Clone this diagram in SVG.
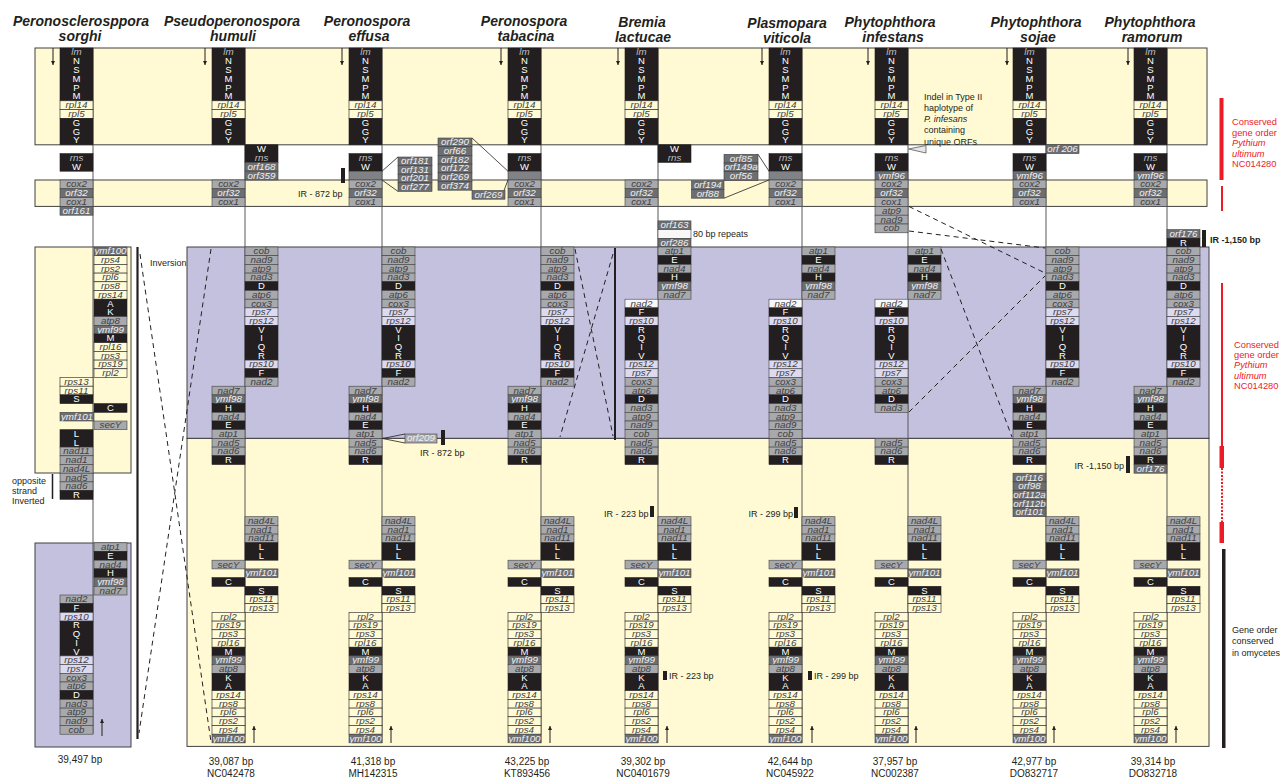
<svg xmlns="http://www.w3.org/2000/svg" width="1287" height="777" viewBox="0 0 1287 777">
<style>
text{font-family:"Liberation Sans",Arial,Helvetica,sans-serif}
.yb{fill:#fffad3;stroke:#414042;stroke-width:1}
.lv{fill:#c4c1df;stroke:#414042;stroke-width:1}
.k{fill:#231f20;stroke:#231f20;stroke-width:.6}
.g{fill:#a7a9ac;stroke:#414042;stroke-width:.6}
.d{fill:#6d6e71;stroke:#414042;stroke-width:.6}
.y{fill:#fffbd6;stroke:#231f20;stroke-width:.6}
.v{fill:#dcdaf0;stroke:#414042;stroke-width:.6}
.w{fill:#f7f7f7;stroke:#414042;stroke-width:.6}
.m{fill:#808285;stroke:#414042;stroke-width:.6}
.c,.i,.j,.l{font-size:9.8px;text-anchor:middle}
.c{fill:#fff;font-size:9.5px}
.i{font-style:italic;fill:#414042}
.j{font-style:italic;fill:#f1f1f2}
.l{font-style:italic;fill:#bcbec0}
.ax{stroke:#58595b;stroke-width:1}
.ar{stroke:#231f20;stroke-width:1;marker-end:url(#ah)}
.ds{stroke:#231f20;stroke-width:1;stroke-dasharray:5 4;fill:none}
.cn{stroke:#231f20;stroke-width:.8;fill:none}
.ti{font-size:14px;font-weight:bold;font-style:italic;text-anchor:middle;fill:#231f20}
.tx{font-size:9px;fill:#231f20}
.bp{font-size:10px;text-anchor:middle;fill:#231f20}
.rd{font-size:9.3px;fill:#ed1c24}
.bar{fill:#231f20}
</style>
<defs>
<marker id="ah" viewBox="0 0 6 6" refX="6" refY="3" markerWidth="4" markerHeight="4" orient="auto"><path d="M0,0 L6,3 L0,6z" fill="#231f20"/></marker>
</defs>
<g id="bands">
<rect class="yb" x="35" y="48" width="1172" height="96.8"/>
<rect class="yb" x="35" y="180" width="1172" height="26.4"/>
<rect class="lv" x="187" y="247" width="1022" height="191.4"/>
<rect class="yb" x="187" y="438.4" width="1022" height="308"/>
<rect class="yb" x="35" y="247" width="96" height="226"/>
<rect class="lv" x="35" y="543" width="96" height="204"/>
</g>
<g id="titles">
<text class="ti" x="81" y="26">Peronosclerosppora</text><text class="ti" x="80" y="41">sorghi</text>
<text class="ti" x="232" y="26">Pseudoperonospora</text><text class="ti" x="233" y="41">humuli</text>
<text class="ti" x="367" y="26">Peronospora</text><text class="ti" x="369" y="41">effusa</text>
<text class="ti" x="524" y="26">Peronospora</text><text class="ti" x="526" y="41">tabacina</text>
<text class="ti" x="642" y="27">Bremia</text><text class="ti" x="643" y="42">lactucae</text>
<text class="ti" x="787" y="28">Plasmopara</text><text class="ti" x="787" y="43">viticola</text>
<text class="ti" x="890" y="27">Phytophthora</text><text class="ti" x="893" y="42">infestans</text>
<text class="ti" x="1036" y="27">Phytophthora</text><text class="ti" x="1038" y="42">sojae</text>
<text class="ti" x="1150" y="27">Phytophthora</text><text class="ti" x="1152" y="42">ramorum</text>
</g>

<g id="sorghi" transform="translate(93,0)">
<line class="ax" x1="0" y1="48" x2="0" y2="734"/>
<rect class="k" x="-33" y="48" width="33" height="52.8"/><text class="l" x="-16.5" y="55.4">lm</text><text class="c" x="-16.5" y="64.2">N</text><text class="c" x="-16.5" y="73">S</text><text class="c" x="-16.5" y="81.8">M</text><text class="c" x="-16.5" y="90.6">P</text><text class="c" x="-16.5" y="99.4">M</text>
<rect class="y" x="-33" y="100.8" width="33" height="8.8"/><text class="i" x="-16.5" y="108.2">rpl14</text>
<rect class="y" x="-33" y="109.6" width="33" height="8.8"/><text class="i" x="-16.5" y="117">rpl5</text>
<rect class="k" x="-33" y="118.4" width="33" height="26.4"/><text class="c" x="-16.5" y="125.8">G</text><text class="c" x="-16.5" y="134.6">G</text><text class="c" x="-16.5" y="143.4">Y</text>
<line class="ar" x1="-40" y1="48" x2="-40" y2="65"/>
<rect class="k" x="-33" y="153.6" width="33" height="17.6"/><text class="l" x="-16.5" y="161">rns</text><text class="c" x="-16.5" y="169.8">W</text>
<rect class="g" x="-33" y="180" width="33" height="8.8"/><text class="i" x="-16.5" y="187.4">cox2</text>
<rect class="d" x="-33" y="188.8" width="33" height="8.8"/><text class="j" x="-16.5" y="196.2">orf32</text>
<rect class="g" x="-33" y="197.6" width="33" height="8.8"/><text class="i" x="-16.5" y="205">cox1</text>
<rect class="d" x="-33" y="206.4" width="33" height="8.8"/><text class="j" x="-16.5" y="213.8">orf161</text>
<rect class="d" x="1" y="247" width="33" height="8.7"/><text class="j" x="17.5" y="254.3">ymf100</text>
<rect class="y" x="1" y="255.7" width="33" height="8.7"/><text class="i" x="17.5" y="263">rps4</text>
<rect class="y" x="1" y="264.4" width="33" height="8.7"/><text class="i" x="17.5" y="271.7">rps2</text>
<rect class="y" x="1" y="273.1" width="33" height="8.7"/><text class="i" x="17.5" y="280.4">rpl6</text>
<rect class="y" x="1" y="281.8" width="33" height="8.7"/><text class="i" x="17.5" y="289.1">rps8</text>
<rect class="y" x="1" y="290.5" width="33" height="8.7"/><text class="i" x="17.5" y="297.8">rps14</text>
<rect class="k" x="1" y="299.2" width="33" height="17.4"/><text class="c" x="17.5" y="306.5">A</text><text class="c" x="17.5" y="315.2">K</text>
<rect class="g" x="1" y="316.6" width="33" height="8.7"/><text class="i" x="17.5" y="323.9">atp8</text>
<rect class="d" x="1" y="325.3" width="33" height="8.7"/><text class="j" x="17.5" y="332.6">ymf99</text>
<rect class="k" x="1" y="334" width="33" height="8.7"/><text class="c" x="17.5" y="341.3">M</text>
<rect class="y" x="1" y="342.7" width="33" height="8.7"/><text class="i" x="17.5" y="350">rpl16</text>
<rect class="y" x="1" y="351.4" width="33" height="8.7"/><text class="i" x="17.5" y="358.7">rps3</text>
<rect class="y" x="1" y="360.1" width="33" height="8.7"/><text class="i" x="17.5" y="367.4">rps19</text>
<rect class="y" x="1" y="368.8" width="33" height="8.7"/><text class="i" x="17.5" y="376.1">rpl2</text>
<rect class="y" x="-33" y="377.5" width="33" height="8.7"/><text class="i" x="-16.5" y="384.8">rps13</text>
<rect class="y" x="-33" y="386.2" width="33" height="8.7"/><text class="i" x="-16.5" y="393.5">rps11</text>
<rect class="k" x="-33" y="394.9" width="33" height="8.7"/><text class="c" x="-16.5" y="402.2">S</text>
<rect class="k" x="1" y="403.6" width="33" height="8.7"/><text class="c" x="17.5" y="410.9">C</text>
<rect class="d" x="-33" y="412.3" width="34" height="8.7"/><text class="j" x="-16" y="419.6">ymf101</text>
<rect class="g" x="1" y="421" width="33" height="8.7"/><text class="i" x="17.5" y="428.3">secY</text>
<rect class="k" x="-33" y="429.7" width="33" height="17.4"/><text class="c" x="-16.5" y="437">L</text><text class="c" x="-16.5" y="445.7">L</text>
<rect class="g" x="-33" y="447.1" width="33" height="8.7"/><text class="i" x="-16.5" y="454.4">nad11</text>
<rect class="g" x="-33" y="455.8" width="33" height="8.7"/><text class="i" x="-16.5" y="463.1">nad1</text>
<rect class="g" x="-33" y="464.5" width="33" height="8.7"/><text class="i" x="-16.5" y="471.8">nad4L</text>
<rect class="g" x="-33" y="473.2" width="33" height="8.7"/><text class="i" x="-16.5" y="480.5">nad5</text>
<rect class="g" x="-33" y="481.9" width="33" height="8.7"/><text class="i" x="-16.5" y="489.2">nad6</text>
<rect class="k" x="-33" y="490.6" width="33" height="8.7"/><text class="c" x="-16.5" y="497.9">R</text>
<rect class="g" x="1" y="542.8" width="33" height="8.7"/><text class="i" x="17.5" y="550.1">atp1</text>
<rect class="k" x="1" y="551.5" width="33" height="8.7"/><text class="c" x="17.5" y="558.8">E</text>
<rect class="g" x="1" y="560.2" width="33" height="8.7"/><text class="i" x="17.5" y="567.5">nad4</text>
<rect class="k" x="1" y="568.9" width="33" height="8.7"/><text class="c" x="17.5" y="576.2">H</text>
<rect class="d" x="1" y="577.6" width="33" height="8.7"/><text class="j" x="17.5" y="584.9">ymf98</text>
<rect class="g" x="1" y="586.3" width="33" height="8.7"/><text class="i" x="17.5" y="593.6">nad7</text>
<rect class="g" x="-33" y="595" width="33" height="8.7"/><text class="i" x="-16.5" y="602.3">nad2</text>
<rect class="k" x="-33" y="603.7" width="33" height="8.7"/><text class="c" x="-16.5" y="611">F</text>
<rect class="v" x="-33" y="612.4" width="33" height="8.7"/><text class="i" x="-16.5" y="619.7">rps10</text>
<rect class="k" x="-33" y="621.1" width="33" height="34.8"/><text class="c" x="-16.5" y="628.4">R</text><text class="c" x="-16.5" y="637.1">Q</text><text class="c" x="-16.5" y="645.8">I</text><text class="c" x="-16.5" y="654.5">V</text>
<rect class="v" x="-33" y="655.9" width="33" height="8.7"/><text class="i" x="-16.5" y="663.2">rps12</text>
<rect class="v" x="-33" y="664.6" width="33" height="8.7"/><text class="i" x="-16.5" y="671.9">rps7</text>
<rect class="g" x="-33" y="673.3" width="33" height="8.7"/><text class="i" x="-16.5" y="680.6">cox3</text>
<rect class="g" x="-33" y="682" width="33" height="8.7"/><text class="i" x="-16.5" y="689.3">atp6</text>
<rect class="k" x="-33" y="690.7" width="33" height="8.7"/><text class="c" x="-16.5" y="698">D</text>
<rect class="g" x="-33" y="699.4" width="33" height="8.7"/><text class="i" x="-16.5" y="706.7">nad3</text>
<rect class="g" x="-33" y="708.1" width="33" height="8.7"/><text class="i" x="-16.5" y="715.4">atp9</text>
<rect class="g" x="-33" y="716.8" width="33" height="8.7"/><text class="i" x="-16.5" y="724.1">nad9</text>
<rect class="g" x="-33" y="725.5" width="33" height="8.7"/><text class="i" x="-16.5" y="732.8">cob</text>
<line class="ar" x1="9" y1="736" x2="9" y2="719"/>
</g>

<g id="humuli" transform="translate(245,0)">
<line class="ax" x1="0" y1="48" x2="0" y2="743"/>
<rect class="k" x="-33" y="48" width="33" height="52.8"/><text class="l" x="-16.5" y="55.4">lm</text><text class="c" x="-16.5" y="64.2">N</text><text class="c" x="-16.5" y="73">S</text><text class="c" x="-16.5" y="81.8">M</text><text class="c" x="-16.5" y="90.6">P</text><text class="c" x="-16.5" y="99.4">M</text>
<rect class="y" x="-33" y="100.8" width="33" height="8.8"/><text class="i" x="-16.5" y="108.2">rpl14</text>
<rect class="y" x="-33" y="109.6" width="33" height="8.8"/><text class="i" x="-16.5" y="117">rpl5</text>
<rect class="k" x="-33" y="118.4" width="33" height="26.4"/><text class="c" x="-16.5" y="125.8">G</text><text class="c" x="-16.5" y="134.6">G</text><text class="c" x="-16.5" y="143.4">Y</text>
<line class="ar" x1="-40" y1="48" x2="-40" y2="65"/>
<rect class="k" x="0" y="144.8" width="33" height="17.6"/><text class="c" x="16.5" y="152.2">W</text><text class="l" x="16.5" y="161">rns</text>
<rect class="d" x="0" y="162.4" width="33" height="8.8"/><text class="j" x="16.5" y="169.8">orf168</text>
<rect class="d" x="0" y="171.2" width="33" height="8.8"/><text class="j" x="16.5" y="178.6">orf359</text>
<rect class="g" x="-33" y="180" width="33" height="8.8"/><text class="i" x="-16.5" y="187.4">cox2</text>
<rect class="d" x="-33" y="188.8" width="33" height="8.8"/><text class="j" x="-16.5" y="196.2">orf32</text>
<rect class="g" x="-33" y="197.6" width="33" height="8.8"/><text class="i" x="-16.5" y="205">cox1</text>
<rect class="g" x="0" y="247" width="33" height="8.7"/><text class="i" x="16.5" y="254.3">cob</text>
<rect class="g" x="0" y="255.7" width="33" height="8.7"/><text class="i" x="16.5" y="263">nad9</text>
<rect class="g" x="0" y="264.4" width="33" height="8.7"/><text class="i" x="16.5" y="271.7">atp9</text>
<rect class="g" x="0" y="273.1" width="33" height="8.7"/><text class="i" x="16.5" y="280.4">nad3</text>
<rect class="k" x="0" y="281.8" width="33" height="8.7"/><text class="c" x="16.5" y="289.1">D</text>
<rect class="g" x="0" y="290.5" width="33" height="8.7"/><text class="i" x="16.5" y="297.8">atp6</text>
<rect class="g" x="0" y="299.2" width="33" height="8.7"/><text class="i" x="16.5" y="306.5">cox3</text>
<rect class="v" x="0" y="307.9" width="33" height="8.7"/><text class="i" x="16.5" y="315.2">rps7</text>
<rect class="v" x="0" y="316.6" width="33" height="8.7"/><text class="i" x="16.5" y="323.9">rps12</text>
<rect class="k" x="0" y="325.3" width="33" height="34.8"/><text class="c" x="16.5" y="332.6">V</text><text class="c" x="16.5" y="341.3">I</text><text class="c" x="16.5" y="350">Q</text><text class="c" x="16.5" y="358.7">R</text>
<rect class="v" x="0" y="360.1" width="33" height="8.7"/><text class="i" x="16.5" y="367.4">rps10</text>
<rect class="k" x="0" y="368.8" width="33" height="8.7"/><text class="c" x="16.5" y="376.1">F</text>
<rect class="g" x="0" y="377.5" width="33" height="8.7"/><text class="i" x="16.5" y="384.8">nad2</text>
<rect class="g" x="-33" y="386.2" width="33" height="8.7"/><text class="i" x="-16.5" y="393.5">nad7</text>
<rect class="d" x="-33" y="394.9" width="33" height="8.7"/><text class="j" x="-16.5" y="402.2">ymf98</text>
<rect class="k" x="-33" y="403.6" width="33" height="8.7"/><text class="c" x="-16.5" y="410.9">H</text>
<rect class="g" x="-33" y="412.3" width="33" height="8.7"/><text class="i" x="-16.5" y="419.6">nad4</text>
<rect class="k" x="-33" y="421" width="33" height="8.7"/><text class="c" x="-16.5" y="428.3">E</text>
<rect class="g" x="-33" y="429.7" width="33" height="8.7"/><text class="i" x="-16.5" y="437">atp1</text>
<rect class="g" x="-33" y="438.4" width="33" height="8.7"/><text class="i" x="-16.5" y="445.7">nad5</text>
<rect class="g" x="-33" y="447.1" width="33" height="8.7"/><text class="i" x="-16.5" y="454.4">nad6</text>
<rect class="k" x="-33" y="455.8" width="33" height="8.7"/><text class="c" x="-16.5" y="463.1">R</text>
<rect class="g" x="0" y="516.7" width="33" height="8.7"/><text class="i" x="16.5" y="524">nad4L</text>
<rect class="g" x="0" y="525.4" width="33" height="8.7"/><text class="i" x="16.5" y="532.7">nad1</text>
<rect class="g" x="0" y="534.1" width="33" height="8.7"/><text class="i" x="16.5" y="541.4">nad11</text>
<rect class="k" x="0" y="542.8" width="33" height="17.4"/><text class="c" x="16.5" y="550.1">L</text><text class="c" x="16.5" y="558.8">L</text>
<rect class="g" x="-33" y="560.2" width="33" height="8.7"/><text class="i" x="-16.5" y="567.5">secY</text>
<rect class="d" x="0" y="568.9" width="33" height="8.7"/><text class="j" x="16.5" y="576.2">ymf101</text>
<rect class="k" x="-33" y="577.6" width="33" height="8.7"/><text class="c" x="-16.5" y="584.9">C</text>
<rect class="k" x="0" y="586.3" width="33" height="8.7"/><text class="c" x="16.5" y="593.6">S</text>
<rect class="y" x="0" y="595" width="33" height="8.7"/><text class="i" x="16.5" y="602.3">rps11</text>
<rect class="y" x="0" y="603.7" width="33" height="8.7"/><text class="i" x="16.5" y="611">rps13</text>
<rect class="y" x="-33" y="612.4" width="33" height="8.7"/><text class="i" x="-16.5" y="619.7">rpl2</text>
<rect class="y" x="-33" y="621.1" width="33" height="8.7"/><text class="i" x="-16.5" y="628.4">rps19</text>
<rect class="y" x="-33" y="629.8" width="33" height="8.7"/><text class="i" x="-16.5" y="637.1">rps3</text>
<rect class="y" x="-33" y="638.5" width="33" height="8.7"/><text class="i" x="-16.5" y="645.8">rpl16</text>
<rect class="k" x="-33" y="647.2" width="33" height="8.7"/><text class="c" x="-16.5" y="654.5">M</text>
<rect class="d" x="-33" y="655.9" width="33" height="8.7"/><text class="j" x="-16.5" y="663.2">ymf99</text>
<rect class="g" x="-33" y="664.6" width="33" height="8.7"/><text class="i" x="-16.5" y="671.9">atp8</text>
<rect class="k" x="-33" y="673.3" width="33" height="17.4"/><text class="c" x="-16.5" y="680.6">K</text><text class="c" x="-16.5" y="689.3">A</text>
<rect class="y" x="-33" y="690.7" width="33" height="8.7"/><text class="i" x="-16.5" y="698">rps14</text>
<rect class="y" x="-33" y="699.4" width="33" height="8.7"/><text class="i" x="-16.5" y="706.7">rps8</text>
<rect class="y" x="-33" y="708.1" width="33" height="8.7"/><text class="i" x="-16.5" y="715.4">rpl6</text>
<rect class="y" x="-33" y="716.8" width="33" height="8.7"/><text class="i" x="-16.5" y="724.1">rps2</text>
<rect class="y" x="-33" y="725.5" width="33" height="8.7"/><text class="i" x="-16.5" y="732.8">rps4</text>
<rect class="d" x="-33" y="734.2" width="33" height="8.7"/><text class="j" x="-16.5" y="741.5">ymf100</text>
<line class="ar" x1="9" y1="743" x2="9" y2="726"/>
</g>

<g id="effusa" transform="translate(382,0)">
<line class="ax" x1="0" y1="48" x2="0" y2="743"/>
<rect class="k" x="-33" y="48" width="33" height="52.8"/><text class="l" x="-16.5" y="55.4">lm</text><text class="c" x="-16.5" y="64.2">N</text><text class="c" x="-16.5" y="73">S</text><text class="c" x="-16.5" y="81.8">M</text><text class="c" x="-16.5" y="90.6">P</text><text class="c" x="-16.5" y="99.4">M</text>
<rect class="y" x="-33" y="100.8" width="33" height="8.8"/><text class="i" x="-16.5" y="108.2">rpl14</text>
<rect class="y" x="-33" y="109.6" width="33" height="8.8"/><text class="i" x="-16.5" y="117">rpl5</text>
<rect class="k" x="-33" y="118.4" width="33" height="26.4"/><text class="c" x="-16.5" y="125.8">G</text><text class="c" x="-16.5" y="134.6">G</text><text class="c" x="-16.5" y="143.4">Y</text>
<line class="ar" x1="-40" y1="48" x2="-40" y2="65"/>
<rect class="k" x="-33" y="153.6" width="33" height="17.6"/><text class="l" x="-16.5" y="161">rns</text><text class="c" x="-16.5" y="169.8">W</text>
<rect class="m" x="-33" y="171.2" width="33" height="8.8"/>
<rect class="g" x="-33" y="180" width="33" height="8.8"/><text class="i" x="-16.5" y="187.4">cox2</text>
<rect class="d" x="-33" y="188.8" width="33" height="8.8"/><text class="j" x="-16.5" y="196.2">orf32</text>
<rect class="g" x="-33" y="197.6" width="33" height="8.8"/><text class="i" x="-16.5" y="205">cox1</text>
<rect class="g" x="0" y="247" width="33" height="8.7"/><text class="i" x="16.5" y="254.3">cob</text>
<rect class="g" x="0" y="255.7" width="33" height="8.7"/><text class="i" x="16.5" y="263">nad9</text>
<rect class="g" x="0" y="264.4" width="33" height="8.7"/><text class="i" x="16.5" y="271.7">atp9</text>
<rect class="g" x="0" y="273.1" width="33" height="8.7"/><text class="i" x="16.5" y="280.4">nad3</text>
<rect class="k" x="0" y="281.8" width="33" height="8.7"/><text class="c" x="16.5" y="289.1">D</text>
<rect class="g" x="0" y="290.5" width="33" height="8.7"/><text class="i" x="16.5" y="297.8">atp6</text>
<rect class="g" x="0" y="299.2" width="33" height="8.7"/><text class="i" x="16.5" y="306.5">cox3</text>
<rect class="v" x="0" y="307.9" width="33" height="8.7"/><text class="i" x="16.5" y="315.2">rps7</text>
<rect class="v" x="0" y="316.6" width="33" height="8.7"/><text class="i" x="16.5" y="323.9">rps12</text>
<rect class="k" x="0" y="325.3" width="33" height="34.8"/><text class="c" x="16.5" y="332.6">V</text><text class="c" x="16.5" y="341.3">I</text><text class="c" x="16.5" y="350">Q</text><text class="c" x="16.5" y="358.7">R</text>
<rect class="v" x="0" y="360.1" width="33" height="8.7"/><text class="i" x="16.5" y="367.4">rps10</text>
<rect class="k" x="0" y="368.8" width="33" height="8.7"/><text class="c" x="16.5" y="376.1">F</text>
<rect class="g" x="0" y="377.5" width="33" height="8.7"/><text class="i" x="16.5" y="384.8">nad2</text>
<rect class="g" x="-33" y="386.2" width="33" height="8.7"/><text class="i" x="-16.5" y="393.5">nad7</text>
<rect class="d" x="-33" y="394.9" width="33" height="8.7"/><text class="j" x="-16.5" y="402.2">ymf98</text>
<rect class="k" x="-33" y="403.6" width="33" height="8.7"/><text class="c" x="-16.5" y="410.9">H</text>
<rect class="g" x="-33" y="412.3" width="33" height="8.7"/><text class="i" x="-16.5" y="419.6">nad4</text>
<rect class="k" x="-33" y="421" width="33" height="8.7"/><text class="c" x="-16.5" y="428.3">E</text>
<rect class="g" x="-33" y="429.7" width="33" height="8.7"/><text class="i" x="-16.5" y="437">atp1</text>
<rect class="g" x="-33" y="438.4" width="33" height="8.7"/><text class="i" x="-16.5" y="445.7">nad5</text>
<rect class="g" x="-33" y="447.1" width="33" height="8.7"/><text class="i" x="-16.5" y="454.4">nad6</text>
<rect class="k" x="-33" y="455.8" width="33" height="8.7"/><text class="c" x="-16.5" y="463.1">R</text>
<rect class="g" x="0" y="516.7" width="33" height="8.7"/><text class="i" x="16.5" y="524">nad4L</text>
<rect class="g" x="0" y="525.4" width="33" height="8.7"/><text class="i" x="16.5" y="532.7">nad1</text>
<rect class="g" x="0" y="534.1" width="33" height="8.7"/><text class="i" x="16.5" y="541.4">nad11</text>
<rect class="k" x="0" y="542.8" width="33" height="17.4"/><text class="c" x="16.5" y="550.1">L</text><text class="c" x="16.5" y="558.8">L</text>
<rect class="g" x="-33" y="560.2" width="33" height="8.7"/><text class="i" x="-16.5" y="567.5">secY</text>
<rect class="d" x="0" y="568.9" width="33" height="8.7"/><text class="j" x="16.5" y="576.2">ymf101</text>
<rect class="k" x="-33" y="577.6" width="33" height="8.7"/><text class="c" x="-16.5" y="584.9">C</text>
<rect class="k" x="0" y="586.3" width="33" height="8.7"/><text class="c" x="16.5" y="593.6">S</text>
<rect class="y" x="0" y="595" width="33" height="8.7"/><text class="i" x="16.5" y="602.3">rps11</text>
<rect class="y" x="0" y="603.7" width="33" height="8.7"/><text class="i" x="16.5" y="611">rps13</text>
<rect class="y" x="-33" y="612.4" width="33" height="8.7"/><text class="i" x="-16.5" y="619.7">rpl2</text>
<rect class="y" x="-33" y="621.1" width="33" height="8.7"/><text class="i" x="-16.5" y="628.4">rps19</text>
<rect class="y" x="-33" y="629.8" width="33" height="8.7"/><text class="i" x="-16.5" y="637.1">rps3</text>
<rect class="y" x="-33" y="638.5" width="33" height="8.7"/><text class="i" x="-16.5" y="645.8">rpl16</text>
<rect class="k" x="-33" y="647.2" width="33" height="8.7"/><text class="c" x="-16.5" y="654.5">M</text>
<rect class="d" x="-33" y="655.9" width="33" height="8.7"/><text class="j" x="-16.5" y="663.2">ymf99</text>
<rect class="g" x="-33" y="664.6" width="33" height="8.7"/><text class="i" x="-16.5" y="671.9">atp8</text>
<rect class="k" x="-33" y="673.3" width="33" height="17.4"/><text class="c" x="-16.5" y="680.6">K</text><text class="c" x="-16.5" y="689.3">A</text>
<rect class="y" x="-33" y="690.7" width="33" height="8.7"/><text class="i" x="-16.5" y="698">rps14</text>
<rect class="y" x="-33" y="699.4" width="33" height="8.7"/><text class="i" x="-16.5" y="706.7">rps8</text>
<rect class="y" x="-33" y="708.1" width="33" height="8.7"/><text class="i" x="-16.5" y="715.4">rpl6</text>
<rect class="y" x="-33" y="716.8" width="33" height="8.7"/><text class="i" x="-16.5" y="724.1">rps2</text>
<rect class="y" x="-33" y="725.5" width="33" height="8.7"/><text class="i" x="-16.5" y="732.8">rps4</text>
<rect class="d" x="-33" y="734.2" width="33" height="8.7"/><text class="j" x="-16.5" y="741.5">ymf100</text>
<line class="ar" x1="9" y1="743" x2="9" y2="726"/>
</g>

<g id="tabacina" transform="translate(541,0)">
<line class="ax" x1="0" y1="48" x2="0" y2="743"/>
<rect class="k" x="-33" y="48" width="33" height="52.8"/><text class="l" x="-16.5" y="55.4">lm</text><text class="c" x="-16.5" y="64.2">N</text><text class="c" x="-16.5" y="73">S</text><text class="c" x="-16.5" y="81.8">M</text><text class="c" x="-16.5" y="90.6">P</text><text class="c" x="-16.5" y="99.4">M</text>
<rect class="y" x="-33" y="100.8" width="33" height="8.8"/><text class="i" x="-16.5" y="108.2">rpl14</text>
<rect class="y" x="-33" y="109.6" width="33" height="8.8"/><text class="i" x="-16.5" y="117">rpl5</text>
<rect class="k" x="-33" y="118.4" width="33" height="26.4"/><text class="c" x="-16.5" y="125.8">G</text><text class="c" x="-16.5" y="134.6">G</text><text class="c" x="-16.5" y="143.4">Y</text>
<line class="ar" x1="-40" y1="48" x2="-40" y2="65"/>
<rect class="k" x="-33" y="153.6" width="33" height="17.6"/><text class="l" x="-16.5" y="161">rns</text><text class="c" x="-16.5" y="169.8">W</text>
<rect class="m" x="-33" y="171.2" width="33" height="8.8"/>
<rect class="g" x="-33" y="180" width="33" height="8.8"/><text class="i" x="-16.5" y="187.4">cox2</text>
<rect class="d" x="-33" y="188.8" width="33" height="8.8"/><text class="j" x="-16.5" y="196.2">orf32</text>
<rect class="g" x="-33" y="197.6" width="33" height="8.8"/><text class="i" x="-16.5" y="205">cox1</text>
<rect class="g" x="0" y="247" width="33" height="8.7"/><text class="i" x="16.5" y="254.3">cob</text>
<rect class="g" x="0" y="255.7" width="33" height="8.7"/><text class="i" x="16.5" y="263">nad9</text>
<rect class="g" x="0" y="264.4" width="33" height="8.7"/><text class="i" x="16.5" y="271.7">atp9</text>
<rect class="g" x="0" y="273.1" width="33" height="8.7"/><text class="i" x="16.5" y="280.4">nad3</text>
<rect class="k" x="0" y="281.8" width="33" height="8.7"/><text class="c" x="16.5" y="289.1">D</text>
<rect class="g" x="0" y="290.5" width="33" height="8.7"/><text class="i" x="16.5" y="297.8">atp6</text>
<rect class="g" x="0" y="299.2" width="33" height="8.7"/><text class="i" x="16.5" y="306.5">cox3</text>
<rect class="v" x="0" y="307.9" width="33" height="8.7"/><text class="i" x="16.5" y="315.2">rps7</text>
<rect class="v" x="0" y="316.6" width="33" height="8.7"/><text class="i" x="16.5" y="323.9">rps12</text>
<rect class="k" x="0" y="325.3" width="33" height="34.8"/><text class="c" x="16.5" y="332.6">V</text><text class="c" x="16.5" y="341.3">I</text><text class="c" x="16.5" y="350">Q</text><text class="c" x="16.5" y="358.7">R</text>
<rect class="v" x="0" y="360.1" width="33" height="8.7"/><text class="i" x="16.5" y="367.4">rps10</text>
<rect class="k" x="0" y="368.8" width="33" height="8.7"/><text class="c" x="16.5" y="376.1">F</text>
<rect class="g" x="0" y="377.5" width="33" height="8.7"/><text class="i" x="16.5" y="384.8">nad2</text>
<rect class="g" x="-33" y="386.2" width="33" height="8.7"/><text class="i" x="-16.5" y="393.5">nad7</text>
<rect class="d" x="-33" y="394.9" width="33" height="8.7"/><text class="j" x="-16.5" y="402.2">ymf98</text>
<rect class="k" x="-33" y="403.6" width="33" height="8.7"/><text class="c" x="-16.5" y="410.9">H</text>
<rect class="g" x="-33" y="412.3" width="33" height="8.7"/><text class="i" x="-16.5" y="419.6">nad4</text>
<rect class="k" x="-33" y="421" width="33" height="8.7"/><text class="c" x="-16.5" y="428.3">E</text>
<rect class="g" x="-33" y="429.7" width="33" height="8.7"/><text class="i" x="-16.5" y="437">atp1</text>
<rect class="g" x="-33" y="438.4" width="33" height="8.7"/><text class="i" x="-16.5" y="445.7">nad5</text>
<rect class="g" x="-33" y="447.1" width="33" height="8.7"/><text class="i" x="-16.5" y="454.4">nad6</text>
<rect class="k" x="-33" y="455.8" width="33" height="8.7"/><text class="c" x="-16.5" y="463.1">R</text>
<rect class="g" x="0" y="516.7" width="33" height="8.7"/><text class="i" x="16.5" y="524">nad4L</text>
<rect class="g" x="0" y="525.4" width="33" height="8.7"/><text class="i" x="16.5" y="532.7">nad1</text>
<rect class="g" x="0" y="534.1" width="33" height="8.7"/><text class="i" x="16.5" y="541.4">nad11</text>
<rect class="k" x="0" y="542.8" width="33" height="17.4"/><text class="c" x="16.5" y="550.1">L</text><text class="c" x="16.5" y="558.8">L</text>
<rect class="g" x="-33" y="560.2" width="33" height="8.7"/><text class="i" x="-16.5" y="567.5">secY</text>
<rect class="d" x="0" y="568.9" width="33" height="8.7"/><text class="j" x="16.5" y="576.2">ymf101</text>
<rect class="k" x="-33" y="577.6" width="33" height="8.7"/><text class="c" x="-16.5" y="584.9">C</text>
<rect class="k" x="0" y="586.3" width="33" height="8.7"/><text class="c" x="16.5" y="593.6">S</text>
<rect class="y" x="0" y="595" width="33" height="8.7"/><text class="i" x="16.5" y="602.3">rps11</text>
<rect class="y" x="0" y="603.7" width="33" height="8.7"/><text class="i" x="16.5" y="611">rps13</text>
<rect class="y" x="-33" y="612.4" width="33" height="8.7"/><text class="i" x="-16.5" y="619.7">rpl2</text>
<rect class="y" x="-33" y="621.1" width="33" height="8.7"/><text class="i" x="-16.5" y="628.4">rps19</text>
<rect class="y" x="-33" y="629.8" width="33" height="8.7"/><text class="i" x="-16.5" y="637.1">rps3</text>
<rect class="y" x="-33" y="638.5" width="33" height="8.7"/><text class="i" x="-16.5" y="645.8">rpl16</text>
<rect class="k" x="-33" y="647.2" width="33" height="8.7"/><text class="c" x="-16.5" y="654.5">M</text>
<rect class="d" x="-33" y="655.9" width="33" height="8.7"/><text class="j" x="-16.5" y="663.2">ymf99</text>
<rect class="g" x="-33" y="664.6" width="33" height="8.7"/><text class="i" x="-16.5" y="671.9">atp8</text>
<rect class="k" x="-33" y="673.3" width="33" height="17.4"/><text class="c" x="-16.5" y="680.6">K</text><text class="c" x="-16.5" y="689.3">A</text>
<rect class="y" x="-33" y="690.7" width="33" height="8.7"/><text class="i" x="-16.5" y="698">rps14</text>
<rect class="y" x="-33" y="699.4" width="33" height="8.7"/><text class="i" x="-16.5" y="706.7">rps8</text>
<rect class="y" x="-33" y="708.1" width="33" height="8.7"/><text class="i" x="-16.5" y="715.4">rpl6</text>
<rect class="y" x="-33" y="716.8" width="33" height="8.7"/><text class="i" x="-16.5" y="724.1">rps2</text>
<rect class="y" x="-33" y="725.5" width="33" height="8.7"/><text class="i" x="-16.5" y="732.8">rps4</text>
<rect class="d" x="-33" y="734.2" width="33" height="8.7"/><text class="j" x="-16.5" y="741.5">ymf100</text>
<line class="ar" x1="9" y1="743" x2="9" y2="726"/>
</g>

<g id="bremia" transform="translate(658,0)">
<line class="ax" x1="0" y1="48" x2="0" y2="743"/>
<rect class="k" x="-33" y="48" width="33" height="52.8"/><text class="l" x="-16.5" y="55.4">lm</text><text class="c" x="-16.5" y="64.2">N</text><text class="c" x="-16.5" y="73">S</text><text class="c" x="-16.5" y="81.8">M</text><text class="c" x="-16.5" y="90.6">P</text><text class="c" x="-16.5" y="99.4">M</text>
<rect class="y" x="-33" y="100.8" width="33" height="8.8"/><text class="i" x="-16.5" y="108.2">rpl14</text>
<rect class="y" x="-33" y="109.6" width="33" height="8.8"/><text class="i" x="-16.5" y="117">rpl5</text>
<rect class="k" x="-33" y="118.4" width="33" height="26.4"/><text class="c" x="-16.5" y="125.8">G</text><text class="c" x="-16.5" y="134.6">G</text><text class="c" x="-16.5" y="143.4">Y</text>
<line class="ar" x1="-40" y1="48" x2="-40" y2="65"/>
<rect class="k" x="0" y="144.8" width="33" height="17.6"/><text class="c" x="16.5" y="152.2">W</text><text class="l" x="16.5" y="161">rns</text>
<rect class="g" x="-33" y="180" width="33" height="8.8"/><text class="i" x="-16.5" y="187.4">cox2</text>
<rect class="d" x="-33" y="188.8" width="33" height="8.8"/><text class="j" x="-16.5" y="196.2">orf32</text>
<rect class="g" x="-33" y="197.6" width="33" height="8.8"/><text class="i" x="-16.5" y="205">cox1</text>
<rect class="d" x="0" y="220.9" width="33" height="8.7"/><text class="j" x="16.5" y="228.2">orf163</text>
<rect class="w" x="0" y="229.6" width="33" height="8.7"/>
<rect class="d" x="0" y="238.3" width="33" height="8.7"/><text class="j" x="16.5" y="245.6">orf286</text>
<rect class="g" x="0" y="247" width="33" height="8.7"/><text class="i" x="16.5" y="254.3">atp1</text>
<rect class="k" x="0" y="255.7" width="33" height="8.7"/><text class="c" x="16.5" y="263">E</text>
<rect class="g" x="0" y="264.4" width="33" height="8.7"/><text class="i" x="16.5" y="271.7">nad4</text>
<rect class="k" x="0" y="273.1" width="33" height="8.7"/><text class="c" x="16.5" y="280.4">H</text>
<rect class="d" x="0" y="281.8" width="33" height="8.7"/><text class="j" x="16.5" y="289.1">ymf98</text>
<rect class="g" x="0" y="290.5" width="33" height="8.7"/><text class="i" x="16.5" y="297.8">nad7</text>
<rect class="w" x="-33" y="299.2" width="33" height="8.7"/><text class="i" x="-16.5" y="306.5">nad2</text>
<rect class="k" x="-33" y="307.9" width="33" height="8.7"/><text class="c" x="-16.5" y="315.2">F</text>
<rect class="v" x="-33" y="316.6" width="33" height="8.7"/><text class="i" x="-16.5" y="323.9">rps10</text>
<rect class="k" x="-33" y="325.3" width="33" height="34.8"/><text class="c" x="-16.5" y="332.6">R</text><text class="c" x="-16.5" y="341.3">Q</text><text class="c" x="-16.5" y="350">I</text><text class="c" x="-16.5" y="358.7">V</text>
<rect class="v" x="-33" y="360.1" width="33" height="8.7"/><text class="i" x="-16.5" y="367.4">rps12</text>
<rect class="v" x="-33" y="368.8" width="33" height="8.7"/><text class="i" x="-16.5" y="376.1">rps7</text>
<rect class="g" x="-33" y="377.5" width="33" height="8.7"/><text class="i" x="-16.5" y="384.8">cox3</text>
<rect class="g" x="-33" y="386.2" width="33" height="8.7"/><text class="i" x="-16.5" y="393.5">atp6</text>
<rect class="k" x="-33" y="394.9" width="33" height="8.7"/><text class="c" x="-16.5" y="402.2">D</text>
<rect class="g" x="-33" y="403.6" width="33" height="8.7"/><text class="i" x="-16.5" y="410.9">nad3</text>
<rect class="g" x="-33" y="412.3" width="33" height="8.7"/><text class="i" x="-16.5" y="419.6">atp9</text>
<rect class="g" x="-33" y="421" width="33" height="8.7"/><text class="i" x="-16.5" y="428.3">nad9</text>
<rect class="g" x="-33" y="429.7" width="33" height="8.7"/><text class="i" x="-16.5" y="437">cob</text>
<rect class="g" x="-33" y="438.4" width="33" height="8.7"/><text class="i" x="-16.5" y="445.7">nad5</text>
<rect class="g" x="-33" y="447.1" width="33" height="8.7"/><text class="i" x="-16.5" y="454.4">nad6</text>
<rect class="k" x="-33" y="455.8" width="33" height="8.7"/><text class="c" x="-16.5" y="463.1">R</text>
<rect class="g" x="0" y="516.7" width="33" height="8.7"/><text class="i" x="16.5" y="524">nad4L</text>
<rect class="g" x="0" y="525.4" width="33" height="8.7"/><text class="i" x="16.5" y="532.7">nad1</text>
<rect class="g" x="0" y="534.1" width="33" height="8.7"/><text class="i" x="16.5" y="541.4">nad11</text>
<rect class="k" x="0" y="542.8" width="33" height="17.4"/><text class="c" x="16.5" y="550.1">L</text><text class="c" x="16.5" y="558.8">L</text>
<rect class="g" x="-33" y="560.2" width="33" height="8.7"/><text class="i" x="-16.5" y="567.5">secY</text>
<rect class="d" x="0" y="568.9" width="33" height="8.7"/><text class="j" x="16.5" y="576.2">ymf101</text>
<rect class="k" x="-33" y="577.6" width="33" height="8.7"/><text class="c" x="-16.5" y="584.9">C</text>
<rect class="k" x="0" y="586.3" width="33" height="8.7"/><text class="c" x="16.5" y="593.6">S</text>
<rect class="y" x="0" y="595" width="33" height="8.7"/><text class="i" x="16.5" y="602.3">rps11</text>
<rect class="y" x="0" y="603.7" width="33" height="8.7"/><text class="i" x="16.5" y="611">rps13</text>
<rect class="y" x="-33" y="612.4" width="33" height="8.7"/><text class="i" x="-16.5" y="619.7">rpl2</text>
<rect class="y" x="-33" y="621.1" width="33" height="8.7"/><text class="i" x="-16.5" y="628.4">rps19</text>
<rect class="y" x="-33" y="629.8" width="33" height="8.7"/><text class="i" x="-16.5" y="637.1">rps3</text>
<rect class="y" x="-33" y="638.5" width="33" height="8.7"/><text class="i" x="-16.5" y="645.8">rpl16</text>
<rect class="k" x="-33" y="647.2" width="33" height="8.7"/><text class="c" x="-16.5" y="654.5">M</text>
<rect class="d" x="-33" y="655.9" width="33" height="8.7"/><text class="j" x="-16.5" y="663.2">ymf99</text>
<rect class="g" x="-33" y="664.6" width="33" height="8.7"/><text class="i" x="-16.5" y="671.9">atp8</text>
<rect class="k" x="-33" y="673.3" width="33" height="17.4"/><text class="c" x="-16.5" y="680.6">K</text><text class="c" x="-16.5" y="689.3">A</text>
<rect class="y" x="-33" y="690.7" width="33" height="8.7"/><text class="i" x="-16.5" y="698">rps14</text>
<rect class="y" x="-33" y="699.4" width="33" height="8.7"/><text class="i" x="-16.5" y="706.7">rps8</text>
<rect class="y" x="-33" y="708.1" width="33" height="8.7"/><text class="i" x="-16.5" y="715.4">rpl6</text>
<rect class="y" x="-33" y="716.8" width="33" height="8.7"/><text class="i" x="-16.5" y="724.1">rps2</text>
<rect class="y" x="-33" y="725.5" width="33" height="8.7"/><text class="i" x="-16.5" y="732.8">rps4</text>
<rect class="d" x="-33" y="734.2" width="33" height="8.7"/><text class="j" x="-16.5" y="741.5">ymf100</text>
<line class="ar" x1="9" y1="743" x2="9" y2="726"/>
</g>

<g id="plasmopara" transform="translate(802,0)">
<line class="ax" x1="0" y1="48" x2="0" y2="743"/>
<rect class="k" x="-33" y="48" width="33" height="52.8"/><text class="l" x="-16.5" y="55.4">lm</text><text class="c" x="-16.5" y="64.2">N</text><text class="c" x="-16.5" y="73">S</text><text class="c" x="-16.5" y="81.8">M</text><text class="c" x="-16.5" y="90.6">P</text><text class="c" x="-16.5" y="99.4">M</text>
<rect class="y" x="-33" y="100.8" width="33" height="8.8"/><text class="i" x="-16.5" y="108.2">rpl14</text>
<rect class="y" x="-33" y="109.6" width="33" height="8.8"/><text class="i" x="-16.5" y="117">rpl5</text>
<rect class="k" x="-33" y="118.4" width="33" height="26.4"/><text class="c" x="-16.5" y="125.8">G</text><text class="c" x="-16.5" y="134.6">G</text><text class="c" x="-16.5" y="143.4">Y</text>
<line class="ar" x1="-40" y1="48" x2="-40" y2="65"/>
<rect class="k" x="-33" y="153.6" width="33" height="17.6"/><text class="l" x="-16.5" y="161">rns</text><text class="c" x="-16.5" y="169.8">W</text>
<rect class="m" x="-33" y="171.2" width="33" height="8.8"/>
<rect class="g" x="-33" y="180" width="33" height="8.8"/><text class="i" x="-16.5" y="187.4">cox2</text>
<rect class="d" x="-33" y="188.8" width="33" height="8.8"/><text class="j" x="-16.5" y="196.2">orf32</text>
<rect class="g" x="-33" y="197.6" width="33" height="8.8"/><text class="i" x="-16.5" y="205">cox1</text>
<rect class="g" x="0" y="247" width="33" height="8.7"/><text class="i" x="16.5" y="254.3">atp1</text>
<rect class="k" x="0" y="255.7" width="33" height="8.7"/><text class="c" x="16.5" y="263">E</text>
<rect class="g" x="0" y="264.4" width="33" height="8.7"/><text class="i" x="16.5" y="271.7">nad4</text>
<rect class="k" x="0" y="273.1" width="33" height="8.7"/><text class="c" x="16.5" y="280.4">H</text>
<rect class="d" x="0" y="281.8" width="33" height="8.7"/><text class="j" x="16.5" y="289.1">ymf98</text>
<rect class="g" x="0" y="290.5" width="33" height="8.7"/><text class="i" x="16.5" y="297.8">nad7</text>
<rect class="w" x="-33" y="299.2" width="33" height="8.7"/><text class="i" x="-16.5" y="306.5">nad2</text>
<rect class="k" x="-33" y="307.9" width="33" height="8.7"/><text class="c" x="-16.5" y="315.2">F</text>
<rect class="v" x="-33" y="316.6" width="33" height="8.7"/><text class="i" x="-16.5" y="323.9">rps10</text>
<rect class="k" x="-33" y="325.3" width="33" height="34.8"/><text class="c" x="-16.5" y="332.6">R</text><text class="c" x="-16.5" y="341.3">Q</text><text class="c" x="-16.5" y="350">I</text><text class="c" x="-16.5" y="358.7">V</text>
<rect class="v" x="-33" y="360.1" width="33" height="8.7"/><text class="i" x="-16.5" y="367.4">rps12</text>
<rect class="v" x="-33" y="368.8" width="33" height="8.7"/><text class="i" x="-16.5" y="376.1">rps7</text>
<rect class="g" x="-33" y="377.5" width="33" height="8.7"/><text class="i" x="-16.5" y="384.8">cox3</text>
<rect class="g" x="-33" y="386.2" width="33" height="8.7"/><text class="i" x="-16.5" y="393.5">atp6</text>
<rect class="k" x="-33" y="394.9" width="33" height="8.7"/><text class="c" x="-16.5" y="402.2">D</text>
<rect class="g" x="-33" y="403.6" width="33" height="8.7"/><text class="i" x="-16.5" y="410.9">nad3</text>
<rect class="g" x="-33" y="412.3" width="33" height="8.7"/><text class="i" x="-16.5" y="419.6">atp9</text>
<rect class="g" x="-33" y="421" width="33" height="8.7"/><text class="i" x="-16.5" y="428.3">nad9</text>
<rect class="g" x="-33" y="429.7" width="33" height="8.7"/><text class="i" x="-16.5" y="437">cob</text>
<rect class="g" x="-33" y="438.4" width="33" height="8.7"/><text class="i" x="-16.5" y="445.7">nad5</text>
<rect class="g" x="-33" y="447.1" width="33" height="8.7"/><text class="i" x="-16.5" y="454.4">nad6</text>
<rect class="k" x="-33" y="455.8" width="33" height="8.7"/><text class="c" x="-16.5" y="463.1">R</text>
<rect class="g" x="0" y="516.7" width="33" height="8.7"/><text class="i" x="16.5" y="524">nad4L</text>
<rect class="g" x="0" y="525.4" width="33" height="8.7"/><text class="i" x="16.5" y="532.7">nad1</text>
<rect class="g" x="0" y="534.1" width="33" height="8.7"/><text class="i" x="16.5" y="541.4">nad11</text>
<rect class="k" x="0" y="542.8" width="33" height="17.4"/><text class="c" x="16.5" y="550.1">L</text><text class="c" x="16.5" y="558.8">L</text>
<rect class="g" x="-33" y="560.2" width="33" height="8.7"/><text class="i" x="-16.5" y="567.5">secY</text>
<rect class="d" x="0" y="568.9" width="33" height="8.7"/><text class="j" x="16.5" y="576.2">ymf101</text>
<rect class="k" x="-33" y="577.6" width="33" height="8.7"/><text class="c" x="-16.5" y="584.9">C</text>
<rect class="k" x="0" y="586.3" width="33" height="8.7"/><text class="c" x="16.5" y="593.6">S</text>
<rect class="y" x="0" y="595" width="33" height="8.7"/><text class="i" x="16.5" y="602.3">rps11</text>
<rect class="y" x="0" y="603.7" width="33" height="8.7"/><text class="i" x="16.5" y="611">rps13</text>
<rect class="y" x="-33" y="612.4" width="33" height="8.7"/><text class="i" x="-16.5" y="619.7">rpl2</text>
<rect class="y" x="-33" y="621.1" width="33" height="8.7"/><text class="i" x="-16.5" y="628.4">rps19</text>
<rect class="y" x="-33" y="629.8" width="33" height="8.7"/><text class="i" x="-16.5" y="637.1">rps3</text>
<rect class="y" x="-33" y="638.5" width="33" height="8.7"/><text class="i" x="-16.5" y="645.8">rpl16</text>
<rect class="k" x="-33" y="647.2" width="33" height="8.7"/><text class="c" x="-16.5" y="654.5">M</text>
<rect class="d" x="-33" y="655.9" width="33" height="8.7"/><text class="j" x="-16.5" y="663.2">ymf99</text>
<rect class="g" x="-33" y="664.6" width="33" height="8.7"/><text class="i" x="-16.5" y="671.9">atp8</text>
<rect class="k" x="-33" y="673.3" width="33" height="17.4"/><text class="c" x="-16.5" y="680.6">K</text><text class="c" x="-16.5" y="689.3">A</text>
<rect class="y" x="-33" y="690.7" width="33" height="8.7"/><text class="i" x="-16.5" y="698">rps14</text>
<rect class="y" x="-33" y="699.4" width="33" height="8.7"/><text class="i" x="-16.5" y="706.7">rps8</text>
<rect class="y" x="-33" y="708.1" width="33" height="8.7"/><text class="i" x="-16.5" y="715.4">rpl6</text>
<rect class="y" x="-33" y="716.8" width="33" height="8.7"/><text class="i" x="-16.5" y="724.1">rps2</text>
<rect class="y" x="-33" y="725.5" width="33" height="8.7"/><text class="i" x="-16.5" y="732.8">rps4</text>
<rect class="d" x="-33" y="734.2" width="33" height="8.7"/><text class="j" x="-16.5" y="741.5">ymf100</text>
<line class="ar" x1="10" y1="743" x2="10" y2="726"/>
</g>

<g id="infestans" transform="translate(908,0)">
<line class="ax" x1="0" y1="48" x2="0" y2="743"/>
<rect class="k" x="-33" y="48" width="33" height="52.8"/><text class="l" x="-16.5" y="55.4">lm</text><text class="c" x="-16.5" y="64.2">N</text><text class="c" x="-16.5" y="73">S</text><text class="c" x="-16.5" y="81.8">M</text><text class="c" x="-16.5" y="90.6">P</text><text class="c" x="-16.5" y="99.4">M</text>
<rect class="y" x="-33" y="100.8" width="33" height="8.8"/><text class="i" x="-16.5" y="108.2">rpl14</text>
<rect class="y" x="-33" y="109.6" width="33" height="8.8"/><text class="i" x="-16.5" y="117">rpl5</text>
<rect class="k" x="-33" y="118.4" width="33" height="26.4"/><text class="c" x="-16.5" y="125.8">G</text><text class="c" x="-16.5" y="134.6">G</text><text class="c" x="-16.5" y="143.4">Y</text>
<line class="ar" x1="-40" y1="48" x2="-40" y2="65"/>
<rect class="k" x="-33" y="153.6" width="33" height="17.6"/><text class="l" x="-16.5" y="161">rns</text><text class="c" x="-16.5" y="169.8">W</text>
<rect class="d" x="-33" y="171.2" width="33" height="8.8"/><text class="j" x="-16.5" y="178.6">ymf96</text>
<rect class="g" x="-33" y="180" width="33" height="8.8"/><text class="i" x="-16.5" y="187.4">cox2</text>
<rect class="d" x="-33" y="188.8" width="33" height="8.8"/><text class="j" x="-16.5" y="196.2">orf32</text>
<rect class="g" x="-33" y="197.6" width="33" height="8.8"/><text class="i" x="-16.5" y="205">cox1</text>
<rect class="g" x="-33" y="206.4" width="33" height="8.8"/><text class="i" x="-16.5" y="213.8">atp9</text>
<rect class="g" x="-33" y="215.2" width="33" height="8.8"/><text class="i" x="-16.5" y="222.6">nad9</text>
<rect class="g" x="-33" y="224" width="33" height="8.8"/><text class="i" x="-16.5" y="231.4">cob</text>
<rect class="g" x="0" y="247" width="33" height="8.7"/><text class="i" x="16.5" y="254.3">atp1</text>
<rect class="k" x="0" y="255.7" width="33" height="8.7"/><text class="c" x="16.5" y="263">E</text>
<rect class="g" x="0" y="264.4" width="33" height="8.7"/><text class="i" x="16.5" y="271.7">nad4</text>
<rect class="k" x="0" y="273.1" width="33" height="8.7"/><text class="c" x="16.5" y="280.4">H</text>
<rect class="d" x="0" y="281.8" width="33" height="8.7"/><text class="j" x="16.5" y="289.1">ymf98</text>
<rect class="g" x="0" y="290.5" width="33" height="8.7"/><text class="i" x="16.5" y="297.8">nad7</text>
<rect class="w" x="-33" y="299.2" width="33" height="8.7"/><text class="i" x="-16.5" y="306.5">nad2</text>
<rect class="k" x="-33" y="307.9" width="33" height="8.7"/><text class="c" x="-16.5" y="315.2">F</text>
<rect class="v" x="-33" y="316.6" width="33" height="8.7"/><text class="i" x="-16.5" y="323.9">rps10</text>
<rect class="k" x="-33" y="325.3" width="33" height="34.8"/><text class="c" x="-16.5" y="332.6">R</text><text class="c" x="-16.5" y="341.3">Q</text><text class="c" x="-16.5" y="350">I</text><text class="c" x="-16.5" y="358.7">V</text>
<rect class="v" x="-33" y="360.1" width="33" height="8.7"/><text class="i" x="-16.5" y="367.4">rps12</text>
<rect class="v" x="-33" y="368.8" width="33" height="8.7"/><text class="i" x="-16.5" y="376.1">rps7</text>
<rect class="g" x="-33" y="377.5" width="33" height="8.7"/><text class="i" x="-16.5" y="384.8">cox3</text>
<rect class="g" x="-33" y="386.2" width="33" height="8.7"/><text class="i" x="-16.5" y="393.5">atp6</text>
<rect class="k" x="-33" y="394.9" width="33" height="8.7"/><text class="c" x="-16.5" y="402.2">D</text>
<rect class="g" x="-33" y="403.6" width="33" height="8.7"/><text class="i" x="-16.5" y="410.9">nad3</text>
<rect class="g" x="-33" y="438.4" width="33" height="8.7"/><text class="i" x="-16.5" y="445.7">nad5</text>
<rect class="g" x="-33" y="447.1" width="33" height="8.7"/><text class="i" x="-16.5" y="454.4">nad6</text>
<rect class="k" x="-33" y="455.8" width="33" height="8.7"/><text class="c" x="-16.5" y="463.1">R</text>
<rect class="g" x="0" y="516.7" width="33" height="8.7"/><text class="i" x="16.5" y="524">nad4L</text>
<rect class="g" x="0" y="525.4" width="33" height="8.7"/><text class="i" x="16.5" y="532.7">nad1</text>
<rect class="g" x="0" y="534.1" width="33" height="8.7"/><text class="i" x="16.5" y="541.4">nad11</text>
<rect class="k" x="0" y="542.8" width="33" height="17.4"/><text class="c" x="16.5" y="550.1">L</text><text class="c" x="16.5" y="558.8">L</text>
<rect class="g" x="-33" y="560.2" width="33" height="8.7"/><text class="i" x="-16.5" y="567.5">secY</text>
<rect class="d" x="0" y="568.9" width="33" height="8.7"/><text class="j" x="16.5" y="576.2">ymf101</text>
<rect class="k" x="-33" y="577.6" width="33" height="8.7"/><text class="c" x="-16.5" y="584.9">C</text>
<rect class="k" x="0" y="586.3" width="33" height="8.7"/><text class="c" x="16.5" y="593.6">S</text>
<rect class="y" x="0" y="595" width="33" height="8.7"/><text class="i" x="16.5" y="602.3">rps11</text>
<rect class="y" x="0" y="603.7" width="33" height="8.7"/><text class="i" x="16.5" y="611">rps13</text>
<rect class="y" x="-33" y="612.4" width="33" height="8.7"/><text class="i" x="-16.5" y="619.7">rpl2</text>
<rect class="y" x="-33" y="621.1" width="33" height="8.7"/><text class="i" x="-16.5" y="628.4">rps19</text>
<rect class="y" x="-33" y="629.8" width="33" height="8.7"/><text class="i" x="-16.5" y="637.1">rps3</text>
<rect class="y" x="-33" y="638.5" width="33" height="8.7"/><text class="i" x="-16.5" y="645.8">rpl16</text>
<rect class="k" x="-33" y="647.2" width="33" height="8.7"/><text class="c" x="-16.5" y="654.5">M</text>
<rect class="d" x="-33" y="655.9" width="33" height="8.7"/><text class="j" x="-16.5" y="663.2">ymf99</text>
<rect class="g" x="-33" y="664.6" width="33" height="8.7"/><text class="i" x="-16.5" y="671.9">atp8</text>
<rect class="k" x="-33" y="673.3" width="33" height="17.4"/><text class="c" x="-16.5" y="680.6">K</text><text class="c" x="-16.5" y="689.3">A</text>
<rect class="y" x="-33" y="690.7" width="33" height="8.7"/><text class="i" x="-16.5" y="698">rps14</text>
<rect class="y" x="-33" y="699.4" width="33" height="8.7"/><text class="i" x="-16.5" y="706.7">rps8</text>
<rect class="y" x="-33" y="708.1" width="33" height="8.7"/><text class="i" x="-16.5" y="715.4">rpl6</text>
<rect class="y" x="-33" y="716.8" width="33" height="8.7"/><text class="i" x="-16.5" y="724.1">rps2</text>
<rect class="y" x="-33" y="725.5" width="33" height="8.7"/><text class="i" x="-16.5" y="732.8">rps4</text>
<rect class="d" x="-33" y="734.2" width="33" height="8.7"/><text class="j" x="-16.5" y="741.5">ymf100</text>
<line class="ar" x1="8" y1="743" x2="8" y2="726"/>
</g>

<g id="sojae" transform="translate(1046,0)">
<line class="ax" x1="0" y1="48" x2="0" y2="743"/>
<rect class="k" x="-33" y="48" width="33" height="52.8"/><text class="l" x="-16.5" y="55.4">lm</text><text class="c" x="-16.5" y="64.2">N</text><text class="c" x="-16.5" y="73">S</text><text class="c" x="-16.5" y="81.8">M</text><text class="c" x="-16.5" y="90.6">P</text><text class="c" x="-16.5" y="99.4">M</text>
<rect class="y" x="-33" y="100.8" width="33" height="8.8"/><text class="i" x="-16.5" y="108.2">rpl14</text>
<rect class="y" x="-33" y="109.6" width="33" height="8.8"/><text class="i" x="-16.5" y="117">rpl5</text>
<rect class="k" x="-33" y="118.4" width="33" height="26.4"/><text class="c" x="-16.5" y="125.8">G</text><text class="c" x="-16.5" y="134.6">G</text><text class="c" x="-16.5" y="143.4">Y</text>
<line class="ar" x1="-39" y1="48" x2="-39" y2="65"/>
<rect class="d" x="0" y="144.8" width="33" height="8.8"/><text class="j" x="16.5" y="152.2">orf 206</text>
<rect class="k" x="-33" y="153.6" width="33" height="17.6"/><text class="l" x="-16.5" y="161">rns</text><text class="c" x="-16.5" y="169.8">W</text>
<rect class="d" x="-33" y="171.2" width="33" height="8.8"/><text class="j" x="-16.5" y="178.6">ymf96</text>
<rect class="g" x="-33" y="180" width="33" height="8.8"/><text class="i" x="-16.5" y="187.4">cox2</text>
<rect class="d" x="-33" y="188.8" width="33" height="8.8"/><text class="j" x="-16.5" y="196.2">orf32</text>
<rect class="g" x="-33" y="197.6" width="33" height="8.8"/><text class="i" x="-16.5" y="205">cox1</text>
<rect class="g" x="0" y="247" width="33" height="8.7"/><text class="i" x="16.5" y="254.3">cob</text>
<rect class="g" x="0" y="255.7" width="33" height="8.7"/><text class="i" x="16.5" y="263">nad9</text>
<rect class="g" x="0" y="264.4" width="33" height="8.7"/><text class="i" x="16.5" y="271.7">atp9</text>
<rect class="g" x="0" y="273.1" width="33" height="8.7"/><text class="i" x="16.5" y="280.4">nad3</text>
<rect class="k" x="0" y="281.8" width="33" height="8.7"/><text class="c" x="16.5" y="289.1">D</text>
<rect class="g" x="0" y="290.5" width="33" height="8.7"/><text class="i" x="16.5" y="297.8">atp6</text>
<rect class="g" x="0" y="299.2" width="33" height="8.7"/><text class="i" x="16.5" y="306.5">cox3</text>
<rect class="v" x="0" y="307.9" width="33" height="8.7"/><text class="i" x="16.5" y="315.2">rps7</text>
<rect class="v" x="0" y="316.6" width="33" height="8.7"/><text class="i" x="16.5" y="323.9">rps12</text>
<rect class="k" x="0" y="325.3" width="33" height="34.8"/><text class="c" x="16.5" y="332.6">V</text><text class="c" x="16.5" y="341.3">I</text><text class="c" x="16.5" y="350">Q</text><text class="c" x="16.5" y="358.7">R</text>
<rect class="v" x="0" y="360.1" width="33" height="8.7"/><text class="i" x="16.5" y="367.4">rps10</text>
<rect class="k" x="0" y="368.8" width="33" height="8.7"/><text class="c" x="16.5" y="376.1">F</text>
<rect class="g" x="0" y="377.5" width="33" height="8.7"/><text class="i" x="16.5" y="384.8">nad2</text>
<rect class="g" x="-33" y="386.2" width="33" height="8.7"/><text class="i" x="-16.5" y="393.5">nad7</text>
<rect class="d" x="-33" y="394.9" width="33" height="8.7"/><text class="j" x="-16.5" y="402.2">ymf98</text>
<rect class="k" x="-33" y="403.6" width="33" height="8.7"/><text class="c" x="-16.5" y="410.9">H</text>
<rect class="g" x="-33" y="412.3" width="33" height="8.7"/><text class="i" x="-16.5" y="419.6">nad4</text>
<rect class="k" x="-33" y="421" width="33" height="8.7"/><text class="c" x="-16.5" y="428.3">E</text>
<rect class="g" x="-33" y="429.7" width="33" height="8.7"/><text class="i" x="-16.5" y="437">atp1</text>
<rect class="g" x="-33" y="438.4" width="33" height="8.7"/><text class="i" x="-16.5" y="445.7">nad5</text>
<rect class="g" x="-33" y="447.1" width="33" height="8.7"/><text class="i" x="-16.5" y="454.4">nad6</text>
<rect class="k" x="-33" y="455.8" width="33" height="8.7"/><text class="c" x="-16.5" y="463.1">R</text>
<rect class="d" x="-33" y="473.2" width="33" height="8.7"/><text class="j" x="-16.5" y="480.5">orf116</text>
<rect class="d" x="-33" y="481.9" width="33" height="8.7"/><text class="j" x="-16.5" y="489.2">orf98</text>
<rect class="d" x="-33" y="490.6" width="33" height="8.7"/><text class="j" x="-16.5" y="497.9">orf112a</text>
<rect class="d" x="-33" y="499.3" width="33" height="8.7"/><text class="j" x="-16.5" y="506.6">orf112b</text>
<rect class="d" x="-33" y="508" width="33" height="8.7"/><text class="j" x="-16.5" y="515.3">orf101</text>
<rect class="g" x="0" y="516.7" width="33" height="8.7"/><text class="i" x="16.5" y="524">nad4L</text>
<rect class="g" x="0" y="525.4" width="33" height="8.7"/><text class="i" x="16.5" y="532.7">nad1</text>
<rect class="g" x="0" y="534.1" width="33" height="8.7"/><text class="i" x="16.5" y="541.4">nad11</text>
<rect class="k" x="0" y="542.8" width="33" height="17.4"/><text class="c" x="16.5" y="550.1">L</text><text class="c" x="16.5" y="558.8">L</text>
<rect class="g" x="-33" y="560.2" width="33" height="8.7"/><text class="i" x="-16.5" y="567.5">secY</text>
<rect class="d" x="0" y="568.9" width="33" height="8.7"/><text class="j" x="16.5" y="576.2">ymf101</text>
<rect class="k" x="-33" y="577.6" width="33" height="8.7"/><text class="c" x="-16.5" y="584.9">C</text>
<rect class="k" x="0" y="586.3" width="33" height="8.7"/><text class="c" x="16.5" y="593.6">S</text>
<rect class="y" x="0" y="595" width="33" height="8.7"/><text class="i" x="16.5" y="602.3">rps11</text>
<rect class="y" x="0" y="603.7" width="33" height="8.7"/><text class="i" x="16.5" y="611">rps13</text>
<rect class="y" x="-33" y="612.4" width="33" height="8.7"/><text class="i" x="-16.5" y="619.7">rpl2</text>
<rect class="y" x="-33" y="621.1" width="33" height="8.7"/><text class="i" x="-16.5" y="628.4">rps19</text>
<rect class="y" x="-33" y="629.8" width="33" height="8.7"/><text class="i" x="-16.5" y="637.1">rps3</text>
<rect class="y" x="-33" y="638.5" width="33" height="8.7"/><text class="i" x="-16.5" y="645.8">rpl16</text>
<rect class="k" x="-33" y="647.2" width="33" height="8.7"/><text class="c" x="-16.5" y="654.5">M</text>
<rect class="d" x="-33" y="655.9" width="33" height="8.7"/><text class="j" x="-16.5" y="663.2">ymf99</text>
<rect class="g" x="-33" y="664.6" width="33" height="8.7"/><text class="i" x="-16.5" y="671.9">atp8</text>
<rect class="k" x="-33" y="673.3" width="33" height="17.4"/><text class="c" x="-16.5" y="680.6">K</text><text class="c" x="-16.5" y="689.3">A</text>
<rect class="y" x="-33" y="690.7" width="33" height="8.7"/><text class="i" x="-16.5" y="698">rps14</text>
<rect class="y" x="-33" y="699.4" width="33" height="8.7"/><text class="i" x="-16.5" y="706.7">rps8</text>
<rect class="y" x="-33" y="708.1" width="33" height="8.7"/><text class="i" x="-16.5" y="715.4">rpl6</text>
<rect class="y" x="-33" y="716.8" width="33" height="8.7"/><text class="i" x="-16.5" y="724.1">rps2</text>
<rect class="y" x="-33" y="725.5" width="33" height="8.7"/><text class="i" x="-16.5" y="732.8">rps4</text>
<rect class="d" x="-33" y="734.2" width="33" height="8.7"/><text class="j" x="-16.5" y="741.5">ymf100</text>
<line class="ar" x1="8" y1="743" x2="8" y2="726"/>
</g>

<g id="ramorum" transform="translate(1167,0)">
<line class="ax" x1="0" y1="48" x2="0" y2="743"/>
<rect class="k" x="-33" y="48" width="33" height="52.8"/><text class="l" x="-16.5" y="55.4">lm</text><text class="c" x="-16.5" y="64.2">N</text><text class="c" x="-16.5" y="73">S</text><text class="c" x="-16.5" y="81.8">M</text><text class="c" x="-16.5" y="90.6">P</text><text class="c" x="-16.5" y="99.4">M</text>
<rect class="y" x="-33" y="100.8" width="33" height="8.8"/><text class="i" x="-16.5" y="108.2">rpl14</text>
<rect class="y" x="-33" y="109.6" width="33" height="8.8"/><text class="i" x="-16.5" y="117">rpl5</text>
<rect class="k" x="-33" y="118.4" width="33" height="26.4"/><text class="c" x="-16.5" y="125.8">G</text><text class="c" x="-16.5" y="134.6">G</text><text class="c" x="-16.5" y="143.4">Y</text>
<line class="ar" x1="-39" y1="48" x2="-39" y2="65"/>
<rect class="k" x="-33" y="153.6" width="33" height="17.6"/><text class="l" x="-16.5" y="161">rns</text><text class="c" x="-16.5" y="169.8">W</text>
<rect class="d" x="-33" y="171.2" width="33" height="8.8"/><text class="j" x="-16.5" y="178.6">ymf96</text>
<rect class="g" x="-33" y="180" width="33" height="8.8"/><text class="i" x="-16.5" y="187.4">cox2</text>
<rect class="d" x="-33" y="188.8" width="33" height="8.8"/><text class="j" x="-16.5" y="196.2">orf32</text>
<rect class="g" x="-33" y="197.6" width="33" height="8.8"/><text class="i" x="-16.5" y="205">cox1</text>
<rect class="d" x="0" y="229.6" width="33" height="8.7"/><text class="j" x="16.5" y="236.9">orf176</text>
<rect class="k" x="0" y="238.3" width="33" height="8.7"/><text class="c" x="16.5" y="245.6">R</text>
<rect class="g" x="0" y="247" width="33" height="8.7"/><text class="i" x="16.5" y="254.3">cob</text>
<rect class="g" x="0" y="255.7" width="33" height="8.7"/><text class="i" x="16.5" y="263">nad9</text>
<rect class="g" x="0" y="264.4" width="33" height="8.7"/><text class="i" x="16.5" y="271.7">atp9</text>
<rect class="g" x="0" y="273.1" width="33" height="8.7"/><text class="i" x="16.5" y="280.4">nad3</text>
<rect class="k" x="0" y="281.8" width="33" height="8.7"/><text class="c" x="16.5" y="289.1">D</text>
<rect class="g" x="0" y="290.5" width="33" height="8.7"/><text class="i" x="16.5" y="297.8">atp6</text>
<rect class="g" x="0" y="299.2" width="33" height="8.7"/><text class="i" x="16.5" y="306.5">cox3</text>
<rect class="v" x="0" y="307.9" width="33" height="8.7"/><text class="i" x="16.5" y="315.2">rps7</text>
<rect class="v" x="0" y="316.6" width="33" height="8.7"/><text class="i" x="16.5" y="323.9">rps12</text>
<rect class="k" x="0" y="325.3" width="33" height="34.8"/><text class="c" x="16.5" y="332.6">V</text><text class="c" x="16.5" y="341.3">I</text><text class="c" x="16.5" y="350">Q</text><text class="c" x="16.5" y="358.7">R</text>
<rect class="v" x="0" y="360.1" width="33" height="8.7"/><text class="i" x="16.5" y="367.4">rps10</text>
<rect class="k" x="0" y="368.8" width="33" height="8.7"/><text class="c" x="16.5" y="376.1">F</text>
<rect class="g" x="0" y="377.5" width="33" height="8.7"/><text class="i" x="16.5" y="384.8">nad2</text>
<rect class="g" x="-33" y="386.2" width="33" height="8.7"/><text class="i" x="-16.5" y="393.5">nad7</text>
<rect class="d" x="-33" y="394.9" width="33" height="8.7"/><text class="j" x="-16.5" y="402.2">ymf98</text>
<rect class="k" x="-33" y="403.6" width="33" height="8.7"/><text class="c" x="-16.5" y="410.9">H</text>
<rect class="g" x="-33" y="412.3" width="33" height="8.7"/><text class="i" x="-16.5" y="419.6">nad4</text>
<rect class="k" x="-33" y="421" width="33" height="8.7"/><text class="c" x="-16.5" y="428.3">E</text>
<rect class="g" x="-33" y="429.7" width="33" height="8.7"/><text class="i" x="-16.5" y="437">atp1</text>
<rect class="g" x="-33" y="438.4" width="33" height="8.7"/><text class="i" x="-16.5" y="445.7">nad5</text>
<rect class="g" x="-33" y="447.1" width="33" height="8.7"/><text class="i" x="-16.5" y="454.4">nad6</text>
<rect class="k" x="-33" y="455.8" width="33" height="8.7"/><text class="c" x="-16.5" y="463.1">R</text>
<rect class="d" x="-33" y="464.5" width="33" height="8.7"/><text class="j" x="-16.5" y="471.8">orf176</text>
<rect class="g" x="0" y="516.7" width="33" height="8.7"/><text class="i" x="16.5" y="524">nad4L</text>
<rect class="g" x="0" y="525.4" width="33" height="8.7"/><text class="i" x="16.5" y="532.7">nad1</text>
<rect class="g" x="0" y="534.1" width="33" height="8.7"/><text class="i" x="16.5" y="541.4">nad11</text>
<rect class="k" x="0" y="542.8" width="33" height="17.4"/><text class="c" x="16.5" y="550.1">L</text><text class="c" x="16.5" y="558.8">L</text>
<rect class="g" x="-33" y="560.2" width="33" height="8.7"/><text class="i" x="-16.5" y="567.5">secY</text>
<rect class="d" x="0" y="568.9" width="33" height="8.7"/><text class="j" x="16.5" y="576.2">ymf101</text>
<rect class="k" x="-33" y="577.6" width="33" height="8.7"/><text class="c" x="-16.5" y="584.9">C</text>
<rect class="k" x="0" y="586.3" width="33" height="8.7"/><text class="c" x="16.5" y="593.6">S</text>
<rect class="y" x="0" y="595" width="33" height="8.7"/><text class="i" x="16.5" y="602.3">rps11</text>
<rect class="y" x="0" y="603.7" width="33" height="8.7"/><text class="i" x="16.5" y="611">rps13</text>
<rect class="y" x="-33" y="612.4" width="33" height="8.7"/><text class="i" x="-16.5" y="619.7">rpl2</text>
<rect class="y" x="-33" y="621.1" width="33" height="8.7"/><text class="i" x="-16.5" y="628.4">rps19</text>
<rect class="y" x="-33" y="629.8" width="33" height="8.7"/><text class="i" x="-16.5" y="637.1">rps3</text>
<rect class="y" x="-33" y="638.5" width="33" height="8.7"/><text class="i" x="-16.5" y="645.8">rpl16</text>
<rect class="k" x="-33" y="647.2" width="33" height="8.7"/><text class="c" x="-16.5" y="654.5">M</text>
<rect class="d" x="-33" y="655.9" width="33" height="8.7"/><text class="j" x="-16.5" y="663.2">ymf99</text>
<rect class="g" x="-33" y="664.6" width="33" height="8.7"/><text class="i" x="-16.5" y="671.9">atp8</text>
<rect class="k" x="-33" y="673.3" width="33" height="17.4"/><text class="c" x="-16.5" y="680.6">K</text><text class="c" x="-16.5" y="689.3">A</text>
<rect class="y" x="-33" y="690.7" width="33" height="8.7"/><text class="i" x="-16.5" y="698">rps14</text>
<rect class="y" x="-33" y="699.4" width="33" height="8.7"/><text class="i" x="-16.5" y="706.7">rps8</text>
<rect class="y" x="-33" y="708.1" width="33" height="8.7"/><text class="i" x="-16.5" y="715.4">rpl6</text>
<rect class="y" x="-33" y="716.8" width="33" height="8.7"/><text class="i" x="-16.5" y="724.1">rps2</text>
<rect class="y" x="-33" y="725.5" width="33" height="8.7"/><text class="i" x="-16.5" y="732.8">rps4</text>
<rect class="d" x="-33" y="734.2" width="33" height="8.7"/><text class="j" x="-16.5" y="741.5">ymf100</text>
<line class="ar" x1="9" y1="743" x2="9" y2="726"/>
</g>

<g id="orf-effusa">
<rect class="d" x="398" y="157" width="34" height="8.6"/><text class="j" x="415" y="164.2">orf181</text>
<rect class="d" x="398" y="165.6" width="34" height="8.6"/><text class="j" x="415" y="172.8">orf131</text>
<rect class="d" x="398" y="174.2" width="34" height="8.6"/><text class="j" x="415" y="181.4">orf201</text>
<rect class="d" x="398" y="182.8" width="34" height="8.6"/><text class="j" x="415" y="190">orf277</text>
</g>
<g id="orf-tabacina">
<rect class="d" x="438" y="138" width="34" height="8.7"/><text class="j" x="455" y="145.3">orf290</text>
<rect class="d" x="438" y="146.7" width="34" height="8.7"/><text class="j" x="455" y="154">orf66</text>
<rect class="d" x="438" y="155.4" width="34" height="8.7"/><text class="j" x="455" y="162.7">orf182</text>
<rect class="d" x="438" y="164.1" width="34" height="8.7"/><text class="j" x="455" y="171.4">orf172</text>
<rect class="d" x="438" y="172.8" width="34" height="8.7"/><text class="j" x="455" y="180.1">orf269</text>
<rect class="d" x="438" y="181.5" width="34" height="8.7"/><text class="j" x="455" y="188.8">orf374</text>
<rect class="d" x="472" y="190.5" width="33" height="8.7"/><text class="j" x="488.5" y="197.8">orf269</text>
</g>
<g id="orf-plasmopara">
<rect class="d" x="724" y="154.3" width="34" height="8.7"/><text class="j" x="741" y="161.6">orf85</text>
<rect class="d" x="724" y="163" width="34" height="8.7"/><text class="j" x="741" y="170.3">orf149a</text>
<rect class="d" x="724" y="171.7" width="34" height="8.7"/><text class="j" x="741" y="179">orf56</text>
<rect class="d" x="691.5" y="180.8" width="32.5" height="8.7"/><text class="j" x="707.8" y="188.1">orf194</text>
<rect class="d" x="691.5" y="189.5" width="32.5" height="8.7"/><text class="j" x="707.8" y="196.8">orf88</text>
</g>
<g id="orf209">
<rect class="g" x="405" y="434" width="32" height="9"/><text class="j" x="421" y="441.3">orf209</text>
</g>

<g id="connectors">
<line class="ds" x1="140" y1="254" x2="211" y2="742"/>
<line class="ds" x1="211" y1="249" x2="139" y2="733"/>
<line class="ds" x1="575" y1="249" x2="613" y2="436"/>
<line class="ds" x1="613" y1="254" x2="560" y2="437"/>
<line class="ds" x1="909" y1="206.5" x2="1045" y2="273"/>
<line class="ds" x1="909" y1="231" x2="1045" y2="248"/>
<line class="ds" x1="941" y1="249" x2="1012" y2="437"/>
<line class="ds" x1="909" y1="412" x2="1045" y2="276"/>
<path class="cn" d="M382,171.2 L398,157 M382,180 L398,191.4"/>
<path class="cn" d="M472,138 L508,171.2 M504,190.5 L508,180"/>
<path class="cn" d="M758,154.3 L769,171.2 M724,198.2 L769,180"/>
<path class="cn" d="M405,434 L382.5,438.5 L405,443"/>
<polygon points="908.5,149 926,145.5 926,153" fill="#e6e7e8" stroke="#58595b" stroke-width=".8"/>
<line x1="137.5" y1="247" x2="137.5" y2="739" stroke="#231f20" stroke-width="2.2"/>
<line x1="615" y1="248" x2="615" y2="440" stroke="#231f20" stroke-width="2"/>
<line x1="52.5" y1="474" x2="52.5" y2="499" stroke="#231f20" stroke-width="1.5"/>
</g>

<g id="ir-labels">
<rect class="bar" x="341" y="168" width="4" height="15"/>
<text class="tx" x="298" y="196.5">IR - 872 bp</text>
<rect class="bar" x="441" y="430" width="4" height="15"/>
<text class="tx" x="420" y="456">IR - 872 bp</text>
<text class="tx" x="648.5" y="516.5" text-anchor="end">IR - 223 bp</text>
<rect class="bar" x="650" y="506" width="4" height="11"/>
<rect class="bar" x="663" y="671" width="4" height="9"/>
<text class="tx" x="669" y="679">IR - 223 bp</text>
<text class="tx" x="793" y="517" text-anchor="end">IR - 299 bp</text>
<rect class="bar" x="794" y="507" width="4" height="11"/>
<rect class="bar" x="808" y="671" width="4" height="9"/>
<text class="tx" x="814" y="679">IR - 299 bp</text>
<rect class="bar" x="1202" y="230" width="4" height="17"/>
<text class="tx" x="1210" y="243" font-weight="bold">IR -1,150 bp</text>
<rect class="bar" x="1126" y="456" width="4" height="17"/>
<text class="tx" x="1124" y="468.5" text-anchor="end">IR -1,150 bp</text>
<text class="tx" x="693" y="237" font-size="8.5">80 bp repeats</text>
</g>

<g id="notes">
<text class="tx" x="150" y="266" font-size="12" fill="#414042">Inversion</text>
<text class="tx" x="12" y="484">opposite</text>
<text class="tx" x="12" y="494">strand</text>
<text class="tx" x="12" y="504">Inverted</text>
<text class="tx" x="924" y="99.5" font-size="10">Indel in Type II</text>
<text class="tx" x="924" y="110.5" font-size="10">haplotype of</text>
<text class="tx" x="924" y="121.5" font-size="10" font-style="italic">P. infesans</text>
<text class="tx" x="924" y="133" font-size="10">containing</text>
<text class="tx" x="924" y="144.5" font-size="10">unique ORFs</text>
</g>

<g id="side-legend">
<rect x="1219.5" y="98" width="4" height="82" fill="#ed1c24"/>
<rect x="1221" y="186" width="2" height="25" fill="#ed1c24"/>
<rect x="1221" y="283" width="2" height="163" fill="#ed1c24"/>
<rect x="1219.5" y="446" width="4.5" height="22" fill="#ed1c24"/>
<line x1="1222" y1="468" x2="1222" y2="522" stroke="#ed1c24" stroke-width="2" stroke-dasharray="2 1.5"/>
<rect x="1219.5" y="522" width="4.5" height="21" fill="#ed1c24"/>
<rect x="1222" y="549" width="3.5" height="199" fill="#231f20"/>
<text class="rd" x="1232" y="125.3">Conserved</text>
<text class="rd" x="1232" y="136.3">gene order</text>
<text class="rd" x="1232" y="146.3" font-style="italic">Pythium</text>
<text class="rd" x="1232" y="156.8" font-style="italic">ultimum</text>
<text class="rd" x="1232" y="167.3">NC014280</text>
<text class="rd" x="1234" y="348.3">Conserved</text>
<text class="rd" x="1234" y="358.3">gene order</text>
<text class="rd" x="1234" y="368.3" font-style="italic">Pythium</text>
<text class="rd" x="1234" y="379.3" font-style="italic">ultimum</text>
<text class="rd" x="1234" y="389.3">NC014280</text>
<text class="tx" x="1232" y="632.5">Gene order</text>
<text class="tx" x="1232" y="643.5">conserved</text>
<text class="tx" x="1232" y="655.5">in omycetes</text>
</g>

<g id="sizes">
<text class="bp" x="80" y="762.5">39,497 bp</text>
<text class="bp" x="231" y="765">39,087 bp</text><text class="bp" x="231" y="777">NC042478</text>
<text class="bp" x="373" y="765">41,318 bp</text><text class="bp" x="373" y="777">MH142315</text>
<text class="bp" x="527" y="765">43,225 bp</text><text class="bp" x="527" y="777">KT893456</text>
<text class="bp" x="643" y="765">39,302 bp</text><text class="bp" x="643" y="777">NC0401679</text>
<text class="bp" x="790" y="765">42,644 bp</text><text class="bp" x="790" y="777">NC045922</text>
<text class="bp" x="895" y="765">37,957 bp</text><text class="bp" x="895" y="777">NC002387</text>
<text class="bp" x="1034" y="765">42,977 bp</text><text class="bp" x="1034" y="777">DQ832717</text>
<text class="bp" x="1153" y="765">39,314 bp</text><text class="bp" x="1153" y="777">DQ832718</text>
</g>
</svg>
